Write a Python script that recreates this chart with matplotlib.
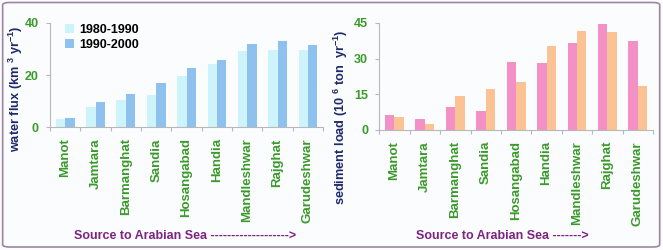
import matplotlib
matplotlib.use("Agg")
import matplotlib.pyplot as plt
import numpy as np
from matplotlib.patches import FancyBboxPatch

plt.rcParams["font.family"] = ["Liberation Sans", "DejaVu Sans"]
plt.rcParams["font.weight"] = "bold"
plt.rcParams["mathtext.fontset"] = "custom"
plt.rcParams["mathtext.rm"] = "Liberation Sans:bold"
plt.rcParams["mathtext.default"] = "rm"

stations = ["Manot", "Jamtara", "Barmanghat", "Sandia", "Hosangabad",
            "Handia", "Mandleshwar", "Rajghat", "Garudeshwar"]
periods = ["1980-1990", "1990-2000"]

flux_80s = [3.1, 7.9, 10.5, 12.3, 19.6, 24.4, 29.2, 29.5, 29.5]
flux_90s = [3.5, 9.5, 12.7, 17.0, 22.8, 25.9, 31.7, 33.1, 31.3]

sed_80s = [6.3, 4.8, 9.5, 8.1, 28.6, 28.0, 36.4, 44.6, 37.4]
sed_90s = [5.3, 2.4, 14.4, 17.4, 20.2, 35.3, 41.6, 41.1, 18.5]

GREEN = "#3a9a2a"
NAVY = "#1d2a6b"
PURPLE = "#7d2382"
AXC = "#b8b8b8"

fig = plt.figure(figsize=(6.63, 2.5), dpi=100, facecolor="#fbfcfd")
fig.patches.append(FancyBboxPatch((0.004, 0.012), 0.991, 0.978,
                                  boxstyle="round,pad=0,rounding_size=0.01",
                                  transform=fig.transFigure, facecolor="none",
                                  edgecolor="#9c84a2", lw=1.2))

ax1 = fig.add_axes([0.0754, 0.491, 0.412, 0.418])
ax2 = fig.add_axes([0.572, 0.48, 0.413, 0.429])

x = np.arange(len(stations))
w = 0.31


def style(ax, ymax, step, ylabel, yl_pos, xlabel, xl_pos):
    ax.set_facecolor("none")
    ax.set_xlim(-0.5, len(stations) - 0.5)
    ax.set_ylim(0, ymax)
    ax.set_yticks(np.arange(0, ymax + 1, step))
    ax.set_xticks(np.arange(len(stations) + 1) - 0.5)
    ax.set_xticklabels([])
    ax.set_xticks(x, minor=True)
    ax.set_xticklabels(stations, minor=True, rotation=90, fontsize=9.5,
                       color=GREEN, fontweight="bold", va="top")
    ax.tick_params(axis="x", which="minor", length=0, pad=8)
    ax.tick_params(axis="x", which="major", length=3, color=AXC)
    ax.tick_params(axis="y", length=3, color=AXC, labelsize=9,
                   labelcolor=GREEN, pad=5)
    for t in ax.get_yticklabels():
        t.set_fontweight("bold")
    for s in ("top", "right"):
        ax.spines[s].set_visible(False)
    for s in ("left", "bottom"):
        ax.spines[s].set_color(AXC)
        ax.spines[s].set_linewidth(0.8)
    fig.text(yl_pos[0], yl_pos[1], ylabel, rotation=90, ha="center",
             va="center", fontsize=9.2, color=NAVY, fontweight="bold")
    fig.text(xl_pos, 0.056, xlabel, ha="center", va="center", fontsize=9,
             color=PURPLE, fontweight="bold")


ax1.bar(x - w / 2, flux_80s, w, color="#cdf3fb", label=periods[0])
ax1.bar(x + w / 2, flux_90s, w, color="#8fc1ef", label=periods[1])
style(ax1, 40, 20, "water flux (km $^{3}$ yr$^{-1}$)", (0.024, 0.644),
      "Source to Arabian Sea ------------------->", 0.279)
ax1.legend(loc="upper left", bbox_to_anchor=(0.015, 1.1), frameon=False,
           handlelength=0.7, handleheight=0.7, handletextpad=0.4,
           labelspacing=0.25, prop={"weight": "bold", "size": 9})

ax2.bar(x - w / 2, sed_80s, w, color="#f391c6")
ax2.bar(x + w / 2, sed_90s, w, color="#fbc394")
style(ax2, 45, 15, "sediment load (10 $^{6}$ ton  yr$^{-1}$)",
      (0.514, 0.532), "Source to Arabian Sea ------->", 0.757)

fig.savefig("out.png", dpi=100, facecolor=fig.get_facecolor())
